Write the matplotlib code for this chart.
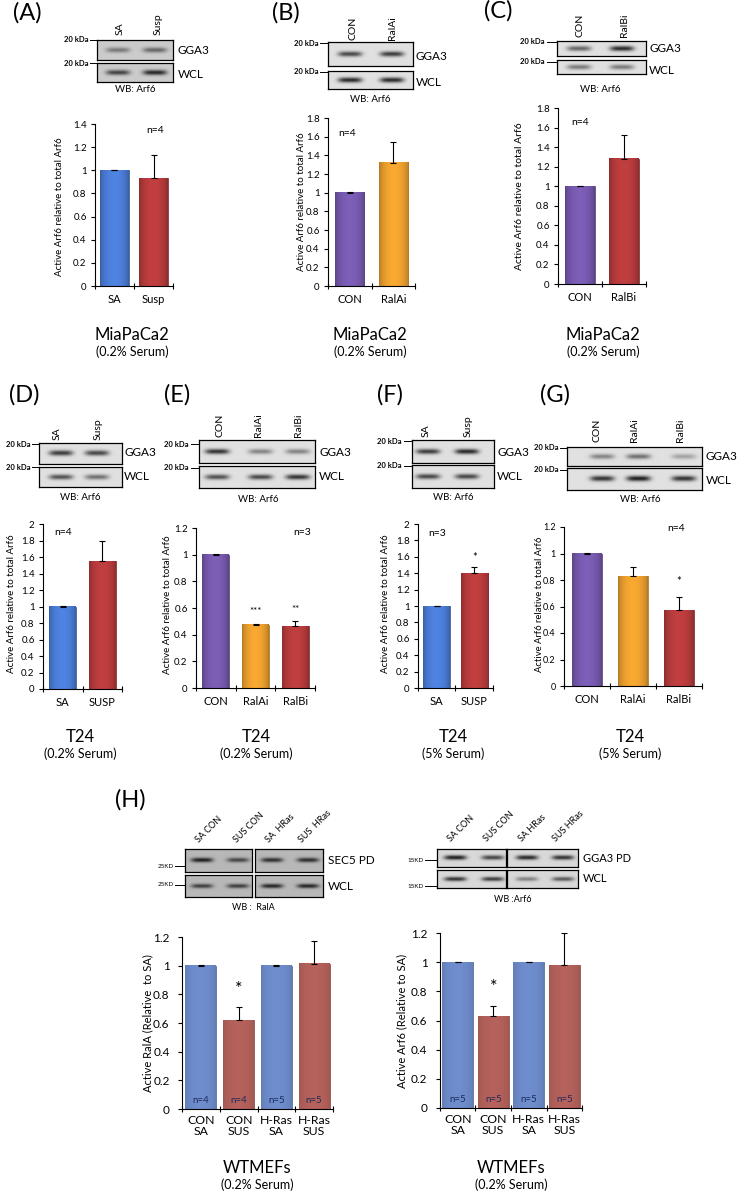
import numpy as np
import matplotlib
matplotlib.use('Agg')
import matplotlib.pyplot as plt
from matplotlib.colors import to_rgb
from matplotlib.lines import Line2D

plt.rcParams['font.family'] = ['Lato', 'DejaVu Sans']

# ---- data ----
a_cats = ['SA', 'Susp']
a_vals = [1.0, 0.93]
a_errs = [0.004, 0.20]

b_cats = ['CON', 'RalAi']
b_vals = [1.0, 1.32]
b_errs = [0.004, 0.22]

c_cats = ['CON', 'RalBi']
c_vals = [1.0, 1.28]
c_errs = [0.004, 0.24]

d_cats = ['SA', 'SUSP']
d_vals = [1.0, 1.55]
d_errs = [0.004, 0.25]

e_cats = ['CON', 'RalAi', 'RalBi']
e_vals = [1.0, 0.475, 0.465]
e_errs = [0.004, 0.005, 0.035]
e_sig = ['', '***', '**']

f_cats = ['SA', 'SUSP']
f_vals = [1.0, 1.40]
f_errs = [0.004, 0.08]
f_sig = ['', '*']

g_cats = ['CON', 'RalAi', 'RalBi']
g_vals = [1.0, 0.83, 0.57]
g_errs = [0.004, 0.065, 0.105]
g_sig = ['', '', '*']

h_cats = ['CON\nSA', 'CON\nSUS', 'H-Ras\nSA', 'H-Ras\nSUS']
h_rala_vals = [1.0, 0.62, 1.0, 1.015]
h_rala_errs = [0.004, 0.09, 0.004, 0.16]
h_rala_n = ['n=4', 'n=4', 'n=5', 'n=5']
h_arf6_vals = [1.0, 0.63, 1.0, 0.98]
h_arf6_errs = [0.004, 0.07, 0.004, 0.22]
h_arf6_n = ['n=5', 'n=5', 'n=5', 'n=5']

# band darkness of the western blots (0 = none, 1 = black)
a_gga3 = [0.45, 0.55]; a_wcl = [0.75, 0.9]
b_gga3 = [0.75, 0.8]; b_wcl = [0.9, 0.9]
c_gga3 = [0.6, 0.9]; c_wcl = [0.5, 0.5]
d_gga3 = [0.8, 0.75]; d_wcl = [0.7, 0.55]
e_gga3 = [0.85, 0.45, 0.45]; e_wcl = [0.7, 0.75, 0.85]
f_gga3 = [0.8, 0.9]; f_wcl = [0.75, 0.75]
g_gga3 = [0.45, 0.55, 0.3]; g_wcl = [0.85, 0.95, 0.85]
hl_sec5 = [0.95, 0.7, 0.85, 0.85]; hl_wcl = [0.75, 0.75, 0.9, 0.9]
hr_gga3 = [0.95, 0.75, 0.9, 0.85]; hr_wcl = [0.85, 0.8, 0.45, 0.65]

BLUE, RED, PURPLE, ORANGE = '#4878cf', '#b0393a', '#7256a8', '#e39a2d'
HBLUE, HRED = '#6d8bc9', '#b3605a'

W, H = 739, 1194
fig = plt.figure(figsize=(W / 100, H / 100), dpi=100)


def box(x0, y0, x1, y1):
    return fig.add_axes([x0 / W, 1 - y1 / H, (x1 - x0) / W, (y1 - y0) / H])


def txt(x, y, s, **kw):
    kw.setdefault('ha', 'center')
    kw.setdefault('va', 'center')
    return fig.text(x / W, 1 - y / H, s, **kw)


def hline(x0, x1, y):
    fig.add_artist(Line2D([x0 / W, x1 / W], [1 - y / H, 1 - y / H],
                          transform=fig.transFigure, color='k', lw=0.7))


def blot(x0, y0, x1, y1, lanes, levels, bg=0.88, bw=12, bh=2.6):
    ax = box(x0, y0, x1, y1)
    s = 4
    xs = np.linspace(x0, x1, int((x1 - x0) * s))
    ys = np.linspace(y0, y1, int((y1 - y0) * s))
    X, Y = np.meshgrid(xs, ys)
    cy = (y0 + y1) / 2
    dark = np.zeros_like(X)
    for cx, lv in zip(lanes, levels):
        dark += lv * np.exp(-((X - cx) / bw) ** 4) * np.exp(-((Y - cy) / bh) ** 2)
    img = bg - np.clip(dark, 0, 1) * (bg - 0.08)
    ax.imshow(img, cmap='gray', vmin=0, vmax=1, extent=(0, 1, 0, 1),
              aspect='auto', interpolation='bilinear')
    ax.set_xticks([]); ax.set_yticks([])
    for sp in ax.spines.values():
        sp.set_linewidth(0.9)
    return ax


def shade(ax, bars, lo=0.78, amp=0.32):
    t = np.linspace(0, 1, 48)
    f = lo + amp * np.sin(np.pi * t) ** 0.6
    for b in bars:
        c = np.array(to_rgb(b.get_facecolor()))
        img = np.clip(c[None, :] * f[:, None], 0, 1)[None, :, :]
        x, w, h = b.get_x(), b.get_width(), b.get_height()
        ax.imshow(img, extent=(x, x + w, 0, h), aspect='auto', zorder=2.5,
                  interpolation='bilinear')


def barplot(rect, cats, vals, errs, colors, ymax, width, ylabel, ylab_xy,
            ylab_size=7, tick_size=7, cat_size=8, cat_pad=6, lo=0.78, amp=0.32):
    ax = box(*rect)
    n = len(cats)
    x = np.arange(n)
    edges = [tuple(np.array(to_rgb(c)) * 0.7) for c in colors]
    b = ax.bar(x, vals, width, color=colors, edgecolor=edges, linewidth=0.5, zorder=2)
    shade(ax, b, lo, amp)
    ax.errorbar(x, vals, yerr=[np.zeros(n), errs], fmt='none', ecolor='k',
                elinewidth=0.8, capsize=2.5, capthick=0.8, zorder=4)
    ax.set_xlim(-0.5, n - 0.5)
    ax.set_ylim(0, ymax)
    yt = np.round(np.arange(0, ymax + 1e-6, 0.2), 1)
    ax.set_yticks(yt)
    ax.set_yticklabels([f'{v:g}' for v in yt])
    ax.set_xticks(x)
    ax.set_xticklabels(cats)
    ax.set_xticks(np.arange(-0.5, n, 1), minor=True)
    ax.tick_params(axis='x', which='major', length=0, pad=cat_pad, labelsize=cat_size)
    ax.tick_params(axis='x', which='minor', length=4, direction='inout', width=0.8)
    ax.tick_params(axis='y', length=3, width=0.8, labelsize=tick_size, pad=3)
    for s in ['top', 'right']:
        ax.spines[s].set_visible(False)
    for s in ['left', 'bottom']:
        ax.spines[s].set_linewidth(0.8)
    ax.patch.set_alpha(0)
    txt(*ylab_xy, ylabel, rotation=90, fontsize=ylab_size)
    return ax


def stars(ax, vals, errs, sig, off, size=8):
    for i, (v, e, s) in enumerate(zip(vals, errs, sig)):
        if s:
            ax.text(i, v + e + off, s, ha='center', va='center', fontsize=size)


ARF = 'Active Arf6 relative to total Arf6'

# ---------------- panel A ----------------
txt(27, 13, '(A)', fontsize=17)
blot(97, 40, 173, 60, [118, 155], a_gga3, bg=0.8)
blot(97, 63, 173, 82, [118, 155], a_wcl, bg=0.8)
for y in (40, 63):
    txt(88, y, '20 kDa', ha='right', fontsize=5.5, fontweight='bold'); hline(90, 97, y)
for xl, s in zip([120, 158], a_cats):
    txt(xl, 35, s, rotation=90, va='bottom', fontsize=7.5)
txt(178, 50, 'GGA3', ha='left', fontsize=8.5)
txt(178, 74, 'WCL', ha='left', fontsize=8.5)
txt(135, 90, 'WB: Arf6', fontsize=7)
ax = barplot((95, 124, 173, 286), a_cats, a_vals, a_errs, [BLUE, RED], 1.4, 0.72, ARF, (60, 207))
ax.text(0.77, 0.96, 'n=4', transform=ax.transAxes, ha='center', va='center', fontsize=7.5)
txt(132, 335, 'MiaPaCa2', fontsize=12)
txt(132, 352, '(0.2% Serum)', fontsize=9)

# ---------------- panel B ----------------
txt(286, 13, '(B)', fontsize=17)
blot(328, 42, 413, 66, [350, 392], b_gga3)
blot(328, 71, 413, 89, [350, 392], b_wcl)
for y in (43, 72):
    txt(318, y, '20 kDa', ha='right', fontsize=5.5, fontweight='bold'); hline(320, 328, y)
for xl, s in zip([353, 393], b_cats):
    txt(xl, 40, s, rotation=90, va='bottom', fontsize=7.5)
txt(416, 57, 'GGA3', ha='left', fontsize=8.5)
txt(416, 82, 'WCL', ha='left', fontsize=8.5)
txt(370, 100, 'WB: Arf6', fontsize=7)
ax = barplot((328, 118, 415, 286), b_cats, b_vals, b_errs, [PURPLE, ORANGE], 1.8, 0.67, ARF, (301, 202))
ax.text(0.22, 0.91, 'n=4', transform=ax.transAxes, ha='center', va='center', fontsize=7.5)
txt(370, 335, 'MiaPaCa2', fontsize=12)
txt(370, 352, '(0.2% Serum)', fontsize=9)

# ---------------- panel C ----------------
txt(498, 11, '(C)', fontsize=17)
blot(557, 41, 646, 56, [579, 622], c_gga3)
blot(557, 60, 646, 74, [579, 622], c_wcl)
for y in (42, 62):
    txt(545, y, '20 kDa', ha='right', fontsize=5.5, fontweight='bold'); hline(547, 557, y)
for xl, s in zip([580, 624], c_cats):
    txt(xl, 37, s, rotation=90, va='bottom', fontsize=7.5)
txt(649, 48, 'GGA3', ha='left', fontsize=8.5)
txt(649, 71, 'WCL', ha='left', fontsize=8.5)
txt(600, 90, 'WB: Arf6', fontsize=7)
ax = barplot((558, 108, 646, 284), c_cats, c_vals, c_errs, [PURPLE, RED], 1.8, 0.68, ARF, (520, 196), ylab_size=7.5)
ax.text(0.25, 0.92, 'n=4', transform=ax.transAxes, ha='center', va='center', fontsize=7.5)
txt(603, 335, 'MiaPaCa2', fontsize=12)
txt(603, 352, '(0.2% Serum)', fontsize=9)

# ---------------- panel D ----------------
txt(24, 395, '(D)', fontsize=17)
blot(39, 443, 122, 464, [61, 97], d_gga3)
blot(39, 467, 122, 487, [61, 97], d_wcl)
for y in (444, 467):
    txt(30, y, '20 kDa', ha='right', fontsize=5.5, fontweight='bold'); hline(32, 39, y)
for xl, s in zip([57, 98], ['SA', 'Susp']):
    txt(xl, 440, s, rotation=90, va='bottom', fontsize=7.5)
txt(124, 453, 'GGA3', ha='left', fontsize=8.5)
txt(124, 477, 'WCL', ha='left', fontsize=8.5)
txt(80, 497, 'WB: Arf6', fontsize=7)
ax = barplot((43, 524, 122, 689), d_cats, d_vals, d_errs, [BLUE, RED], 2.0, 0.68, ARF, (12, 604))
ax.text(0.25, 0.95, 'n=4', transform=ax.transAxes, ha='center', va='center', fontsize=7.5)
txt(80, 737, 'T24', fontsize=12)
txt(80, 754, '(0.2% Serum)', fontsize=9)

# ---------------- panel E ----------------
txt(177, 395, '(E)', fontsize=17)
blot(199, 440, 315, 463, [217, 260, 297], e_gga3)
blot(199, 466, 315, 488, [217, 260, 297], e_wcl)
for y in (444, 468):
    txt(189, y, '20 kDa', ha='right', fontsize=5.5, fontweight='bold'); hline(191, 199, y)
for xl, s in zip([220, 258, 298], e_cats):
    txt(xl, 437, s, rotation=90, va='bottom', fontsize=7.5)
txt(319, 453, 'GGA3', ha='left', fontsize=8.5)
txt(319, 477, 'WCL', ha='left', fontsize=8.5)
txt(258, 500, 'WB: Arf6', fontsize=7)
ax = barplot((196, 528, 315, 688), e_cats, e_vals, e_errs, [PURPLE, ORANGE, RED], 1.2, 0.68, ARF, (167, 605))
ax.text(0.89, 0.97, 'n=3', transform=ax.transAxes, ha='center', va='center', fontsize=7.5)
stars(ax, e_vals, e_errs, e_sig, 0.09, size=7)
txt(256, 737, 'T24', fontsize=12)
txt(256, 754, '(0.2% Serum)', fontsize=9)

# ---------------- panel F ----------------
txt(390, 395, '(F)', fontsize=17)
blot(412, 440, 494, 463, [428, 467], f_gga3)
blot(412, 465, 494, 488, [428, 467], f_wcl)
for y in (441, 466):
    txt(402, y, '20 kDa', ha='right', fontsize=5.5, fontweight='bold'); hline(404, 412, y)
for xl, s in zip([426, 468], ['SA', 'Susp']):
    txt(xl, 437, s, rotation=90, va='bottom', fontsize=7.5)
txt(497, 453, 'GGA3', ha='left', fontsize=8.5)
txt(497, 477, 'WCL', ha='left', fontsize=8.5)
txt(453, 497, 'WB: Arf6', fontsize=7)
ax = barplot((418, 524, 493, 688), f_cats, f_vals, f_errs, [BLUE, RED], 2.0, 0.72, ARF, (385, 604))
ax.text(0.25, 0.945, 'n=3', transform=ax.transAxes, ha='center', va='center', fontsize=7.5)
stars(ax, f_vals, f_errs, f_sig, 0.11)
txt(453, 737, 'T24', fontsize=12)
txt(453, 754, '(5% Serum)', fontsize=9)

# ---------------- panel G ----------------
txt(555, 395, '(G)', fontsize=17)
blot(567, 447, 702, 466, [602, 638, 683], g_gga3)
blot(567, 468, 702, 490, [602, 638, 683], g_wcl)
for y in (448, 470):
    txt(558, y, '20 kDa', ha='right', fontsize=5.5, fontweight='bold'); hline(560, 567, y)
for xl, s in zip([597, 635, 680], g_cats):
    txt(xl, 442, s, rotation=90, va='bottom', fontsize=7.5)
txt(706, 456, 'GGA3', ha='left', fontsize=8.5)
txt(706, 480, 'WCL', ha='left', fontsize=8.5)
txt(640, 500, 'WB: Arf6', fontsize=7)
ax = barplot((564, 527, 702, 686), g_cats, g_vals, g_errs, [PURPLE, ORANGE, RED], 1.2, 0.65, ARF, (539, 604),
             ylab_size=6.8, tick_size=6.5)
ax.text(0.81, 0.99, 'n=4', transform=ax.transAxes, ha='center', va='center', fontsize=7.5)
stars(ax, g_vals, g_errs, g_sig, 0.11)
txt(630, 737, 'T24', fontsize=12)
txt(630, 754, '(5% Serum)', fontsize=9)

# ---------------- panel H ----------------
txt(130, 800, '(H)', fontsize=17)
lanes_hl = [202, 238, 272, 308]
for yy, lv, lab in [((849, 872), hl_sec5, 'SEC5 PD'), ((875, 897), hl_wcl, 'WCL')]:
    blot(185, yy[0], 252, yy[1], lanes_hl[:2], lv[:2], bg=0.72, bw=11, bh=2.2)
    blot(255, yy[0], 323, yy[1], lanes_hl[2:], lv[2:], bg=0.72, bw=11, bh=2.2)
    txt(328, (yy[0] + yy[1]) / 2, lab, ha='left', fontsize=8.5)
for y in (866, 885):
    txt(174, y, '25KD', ha='right', fontsize=4.5); hline(175, 185, y)
for xl, s in zip([200, 238, 270, 303], ['SA CON', 'SUS CON', 'SA  HRas', 'SUS  HRas']):
    txt(xl, 844, s, rotation=45, ha='left', va='bottom', rotation_mode='anchor', fontsize=6.5)
txt(253, 907, 'WB :  RalA', fontsize=6.5)

lanes_hr = [455, 492, 527, 563]
for yy, lv, lab in [((849, 867), hr_gga3, 'GGA3 PD'), ((870, 888), hr_wcl, 'WCL')]:
    blot(437, yy[0], 506, yy[1], lanes_hr[:2], lv[:2], bg=0.85, bw=11, bh=2.2)
    blot(507, yy[0], 578, yy[1], lanes_hr[2:], lv[2:], bg=0.85, bw=11, bh=2.2)
    txt(583, (yy[0] + yy[1]) / 2, lab, ha='left', fontsize=8)
for y in (860, 886):
    txt(424, y, '15KD', ha='right', fontsize=4.5); hline(425, 437, y)
for xl, s in zip([452, 488, 523, 557], ['SA CON', 'SUS CON', 'SA HRas', 'SUS HRas']):
    txt(xl, 843, s, rotation=45, ha='left', va='bottom', rotation_mode='anchor', fontsize=6.5)
txt(513, 900, 'WB :Arf6', fontsize=6.5)

for rect, vals, errs, nl, width, ylab, ylx in [
        ((182, 937, 333, 1109), h_rala_vals, h_rala_errs, h_rala_n, 0.82,
         'Active RalA (Relative  to SA)', 148),
        ((440, 933, 582, 1108), h_arf6_vals, h_arf6_errs, h_arf6_n, 0.87,
         'Active Arf6 (Relative to SA)', 402)]:
    ax = barplot(rect, h_cats, vals, errs, [HBLUE, HRED, HBLUE, HRED], 1.2, width, ylab,
                 (ylx, (rect[1] + rect[3]) / 2), ylab_size=8, tick_size=8.5, cat_size=8.8,
                 cat_pad=4, lo=0.9, amp=0.12)
    for lab in ax.get_xticklabels():
        lab.set_linespacing(1.0)
    ax.tick_params(axis='y', pad=6)
    for i, s in enumerate(nl):
        ax.text(i, 0.06, s, ha='center', va='center', fontsize=7, color='#1c2b5c')
    stars(ax, vals, errs, ['', '*', '', ''], 0.13, size=13)
    cx = (rect[0] + rect[2]) / 2 + 0
    txt(cx, 1168, 'WTMEFs', fontsize=12)
    txt(cx, 1185, '(0.2% Serum)', fontsize=9)

fig.savefig('out.png', dpi=100)
